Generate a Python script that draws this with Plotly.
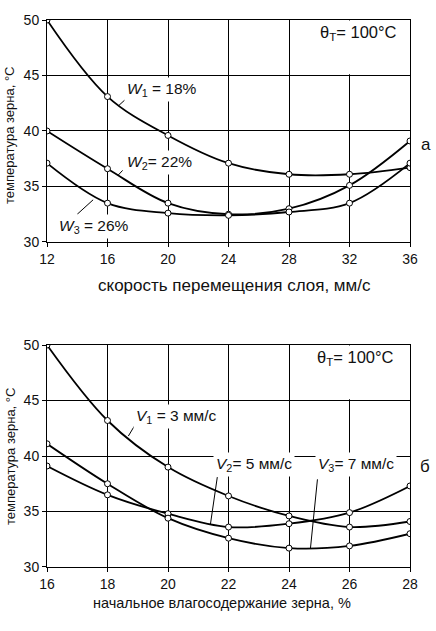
import plotly.graph_objects as go

# ---- data: top chart (speed of layer movement) ----
speed = [12, 16, 20, 24, 28, 32, 36]
w1_temp = [50.0, 43.1, 39.6, 37.1, 36.1, 36.1, 36.7]
w2_temp = [40.0, 36.6, 33.5, 32.5, 33.0, 35.1, 39.1]
w3_temp = [37.1, 33.5, 32.6, 32.4, 32.7, 33.5, 37.1]

# ---- data: bottom chart (initial grain moisture) ----
moisture = [16, 18, 20, 22, 24, 26, 28]
v1_temp = [50.0, 43.2, 39.0, 36.4, 34.6, 33.6, 34.1]
v2_temp = [39.1, 36.5, 34.8, 33.6, 33.9, 34.9, 37.3]
v3_temp = [41.1, 37.5, 34.4, 32.6, 31.7, 31.9, 33.0]

y_ticks = [30, 35, 40, 45, 50]
x_ticks_top = [12, 16, 20, 24, 28, 32, 36]
x_ticks_bot = [16, 18, 20, 22, 24, 26, 28]

FONT = "Liberation Sans, Arial, sans-serif"
INK = "#000000"

fig = go.Figure()

def add_curve(x, y, xa, ya):
    fig.add_trace(go.Scatter(
        x=x, y=y, mode="lines+markers", xaxis=xa, yaxis=ya,
        line=dict(color=INK, width=1.8, shape="spline", smoothing=1.0),
        marker=dict(symbol="circle", size=6, color="white",
                    line=dict(color=INK, width=1)),
        showlegend=False, hoverinfo="skip"))

for ys in (w1_temp, w2_temp, w3_temp):
    add_curve(speed, ys, "x", "y")
for ys in (v1_temp, v2_temp, v3_temp):
    add_curve(moisture, ys, "x2", "y2")

axis_common = dict(
    showline=True, mirror=True, linecolor=INK, linewidth=1,
    showgrid=True, gridcolor=INK, gridwidth=1,
    ticks="outside", ticklen=4, tickcolor=INK, tickwidth=1,
    tickfont=dict(family=FONT, size=14, color="#111"),
    zeroline=False, fixedrange=True,
)

fig.update_layout(
    width=436, height=631,
    margin=dict(l=47, r=26, t=15, b=64),
    paper_bgcolor="white", plot_bgcolor="white",
    xaxis=dict(domain=[0, 1], range=[12, 36], tickvals=x_ticks_top,
               anchor="y", **axis_common),
    yaxis=dict(domain=[0.5942, 1], range=[30, 50], tickvals=y_ticks,
               anchor="x", **axis_common),
    xaxis2=dict(domain=[0, 1], range=[16, 28], tickvals=x_ticks_bot,
                anchor="y2", **axis_common),
    yaxis2=dict(domain=[0, 0.4058], range=[30, 50], tickvals=y_ticks,
                anchor="x2", **axis_common),
)

# white boxes behind the θ labels (hide grid there)
fig.add_shape(type="rect", xref="x", yref="y", x0=30.0, x1=35.95, y0=45.12, y1=49.95,
              fillcolor="white", line=dict(width=0), layer="between")
fig.add_shape(type="rect", xref="x2", yref="y2", x0=25.0, x1=27.97, y0=45.12, y1=49.95,
              fillcolor="white", line=dict(width=0), layer="between")

def label(text, x, y, xref, yref, size=15.5, bg=True):
    fig.add_annotation(text=text, x=x, y=y, xref=xref, yref=yref,
                       showarrow=False, xanchor="center", yanchor="middle",
                       font=dict(family=FONT, size=size, color="#111"),
                       bgcolor="white" if bg else None, borderpad=2)

def pointer(x0, y0, x1, y1, xref, yref):
    fig.add_shape(type="line", xref=xref, yref=yref, x0=x0, y0=y0, x1=x1, y1=y1,
                  line=dict(color=INK, width=1))

# top chart labels
label("θ<sub>T</sub>= 100°C", 32.6, 48.8, "x", "y", size=16.5, bg=False)
label("<i>W</i><sub>1</sub> = 18%", 19.6, 43.75, "x", "y")
label("<i>W</i><sub>2</sub>= 22%", 19.45, 37.2, "x", "y")
label("<i>W</i><sub>3</sub> = 26%", 15.1, 31.4, "x", "y")
pointer(16.75, 42.3, 17.15, 42.8, "x", "y")
pointer(16.69, 36.0, 17.0, 36.45, "x", "y")
pointer(14.0, 32.5, 15.05, 33.8, "x", "y")

# bottom chart labels
label("θ<sub>T</sub>= 100°C", 26.2, 48.8, "x2", "y2", size=16.5, bg=False)
label("<i>V</i><sub>1</sub> = 3 мм/с", 20.27, 43.6, "x2", "y2")
label("<i>V</i><sub>2</sub>= 5 мм/с", 22.85, 39.25, "x2", "y2")
label("<i>V</i><sub>3</sub>= 7 мм/с", 26.2, 39.25, "x2", "y2")
pointer(18.69, 41.8, 18.91, 42.8, "x2", "y2")
pointer(21.40, 33.8, 21.63, 38.1, "x2", "y2")
pointer(24.71, 31.7, 24.94, 37.9, "x2", "y2")

def paper_text(text, px, py, size, angle=0):
    # px, py: pixel position of the text centre (from top-left of the page)
    fig.add_annotation(text=text, x=(px - 47) / 363, y=(567 - py) / 552,
                       xref="paper", yref="paper", showarrow=False,
                       xanchor="center", yanchor="middle", textangle=angle,
                       font=dict(family=FONT, size=size, color="#111"))

# side letters
paper_text("а", 426, 141, 17)
paper_text("б", 425, 466, 17)

# axis titles
paper_text("скорость перемещения слоя, мм/с", 234, 283, 17)
paper_text("начальное влагосодержание зерна, %", 222, 603, 14.5)
paper_text("температура зерна, °С", 10, 132, 13, -90)
paper_text("температура зерна, °С", 10, 456, 13, -90)

fig.write_html("out.html", config={"displayModeBar": False},
               post_script="document.body.style.margin='0';")
